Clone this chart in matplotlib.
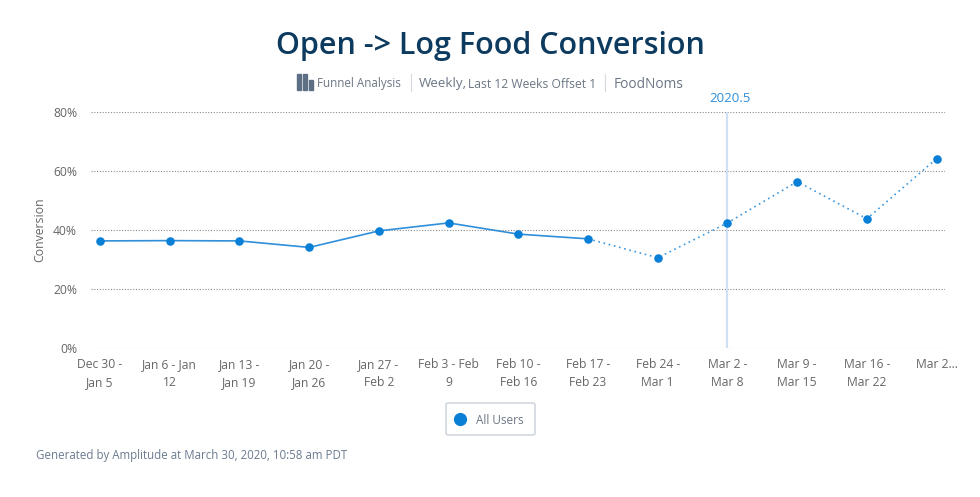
import numpy as np
import matplotlib
matplotlib.use("Agg")
import matplotlib.pyplot as plt
from matplotlib.patches import Rectangle, FancyBboxPatch
from matplotlib.lines import Line2D

plt.rcParams['font.family'] = ['Open Sans', 'DejaVu Sans']

# ── data ──────────────────────────────────────────────────────────────
weeks = ["Dec 30 -\nJan 5", "Jan 6 - Jan\n12", "Jan 13 -\nJan 19", "Jan 20 -\nJan 26",
         "Jan 27 -\nFeb 2", "Feb 3 - Feb\n9", "Feb 10 -\nFeb 16", "Feb 17 -\nFeb 23",
         "Feb 24 -\nMar 1", "Mar 2 -\nMar 8", "Mar 9 -\nMar 15", "Mar 16 -\nMar 22",
         "Mar 2..."]
conversion = [36.3, 36.4, 36.3, 34.1, 39.7, 42.4, 38.6, 37.0, 30.6, 42.4, 56.4, 43.8, 64.2]
last_complete = 7          # solid up to here, dotted (incomplete) after
marker_week = 9
marker_label = "2020.5"
yticks = [0, 20, 40, 60, 80]

W, H = 980, 497
BLUE = "#0a7fd6"
NAVY = "#0d3a5f"
GREY = "#6b7785"

fig = plt.figure(figsize=(W / 100, H / 100), dpi=100)
ax = fig.add_axes([91 / W, 1 - 348 / H, (945 - 91) / W, (348 - 112) / H])

x = np.arange(len(conversion))
ax.plot(x[:last_complete + 1], conversion[:last_complete + 1], color="#2f8fdb", lw=1.2, zorder=3)
ax.plot(x[last_complete:], conversion[last_complete:], color="#3c98e0", lw=1.2,
        ls=(0, (1, 2.2)), zorder=3)
ax.scatter(x, conversion, s=38, color=BLUE, zorder=4, linewidths=0)

ax.axvline(marker_week, color="#cfe0f3", lw=1.6, zorder=2)
ax.text(marker_week + 0.03, 82.5, marker_label, ha="center", va="bottom", color="#2f8fdb",
        fontsize=9.5)

ax.set_xlim(-0.13, 12.12)
ax.set_ylim(0, 80)
ax.set_yticks(yticks)
ax.set_yticklabels([f"{v}%" for v in yticks])
ax.set_xticks(x)
ax.set_xticklabels(weeks, linespacing=1.55)
ax.yaxis.grid(True, color="#8a8a8a", ls=(0, (1, 1.5)), lw=0.8)
ax.set_axisbelow(True)
for s in ax.spines.values():
    s.set_visible(False)
ax.tick_params(length=0, labelsize=8.7, labelcolor="#666666")
ax.tick_params(axis="y", pad=10)
ax.tick_params(axis="x", pad=7)
ax.set_ylabel("Conversion", fontsize=8.8, color="#666666")
ax.yaxis.set_label_coords(-45 / (945 - 91), 0.5)

# ── header ────────────────────────────────────────────────────────────
def px(xp, yp):
    return xp / W, 1 - yp / H

fig.text(*px(490, 46), "Open -> Log Food Conversion", ha="center", va="center",
         fontsize=22, fontweight="semibold", color=NAVY)

# funnel icon
for bx, bh, bw in [(297, 16, 4), (303, 16, 4), (309, 10, 3.5)]:
    fig.patches.append(Rectangle(px(bx, 90), bw / W, bh / H, transform=fig.transFigure,
                                 color="#5c6f85", figure=fig))
fig.text(*px(317, 84), "Funnel Analysis", ha="left", va="center", fontsize=8.4, color=GREY)
fig.lines.append(Line2D([411 / W, 411 / W], [1 - 74 / H, 1 - 91 / H], color="#d3d9e0",
                        lw=0.8, transform=fig.transFigure))
fig.text(*px(419, 84), "Weekly,", ha="left", va="center", fontsize=9.6, color=GREY)
fig.text(*px(468, 84.5), "Last 12 Weeks Offset 1", ha="left", va="center", fontsize=8.7,
         color=GREY)
fig.lines.append(Line2D([605 / W, 605 / W], [1 - 74 / H, 1 - 91 / H], color="#d3d9e0",
                        lw=0.8, transform=fig.transFigure))
fig.text(*px(614, 84), "FoodNoms", ha="left", va="center", fontsize=9.9, color=GREY)

# ── legend box ────────────────────────────────────────────────────────
fig.patches.append(FancyBboxPatch(px(446, 435), 89 / W, 32 / H,
                                  boxstyle="round,pad=0,rounding_size=0.003",
                                  transform=fig.transFigure, facecolor="white",
                                  edgecolor="#c9d1da", lw=1, figure=fig))
fig.lines.append(Line2D([460 / W], [1 - 419 / H], marker="o", ms=8.5, color=BLUE,
                        transform=fig.transFigure))
fig.text(*px(476, 420), "All Users", ha="left", va="center", fontsize=8.5, color=GREY)

fig.text(*px(36, 455), "Generated by Amplitude at March 30, 2020, 10:58 am PDT",
         ha="left", va="center", fontsize=8.3, color="#6b7a8f")

fig.savefig("out.png", dpi=100, facecolor="white")
